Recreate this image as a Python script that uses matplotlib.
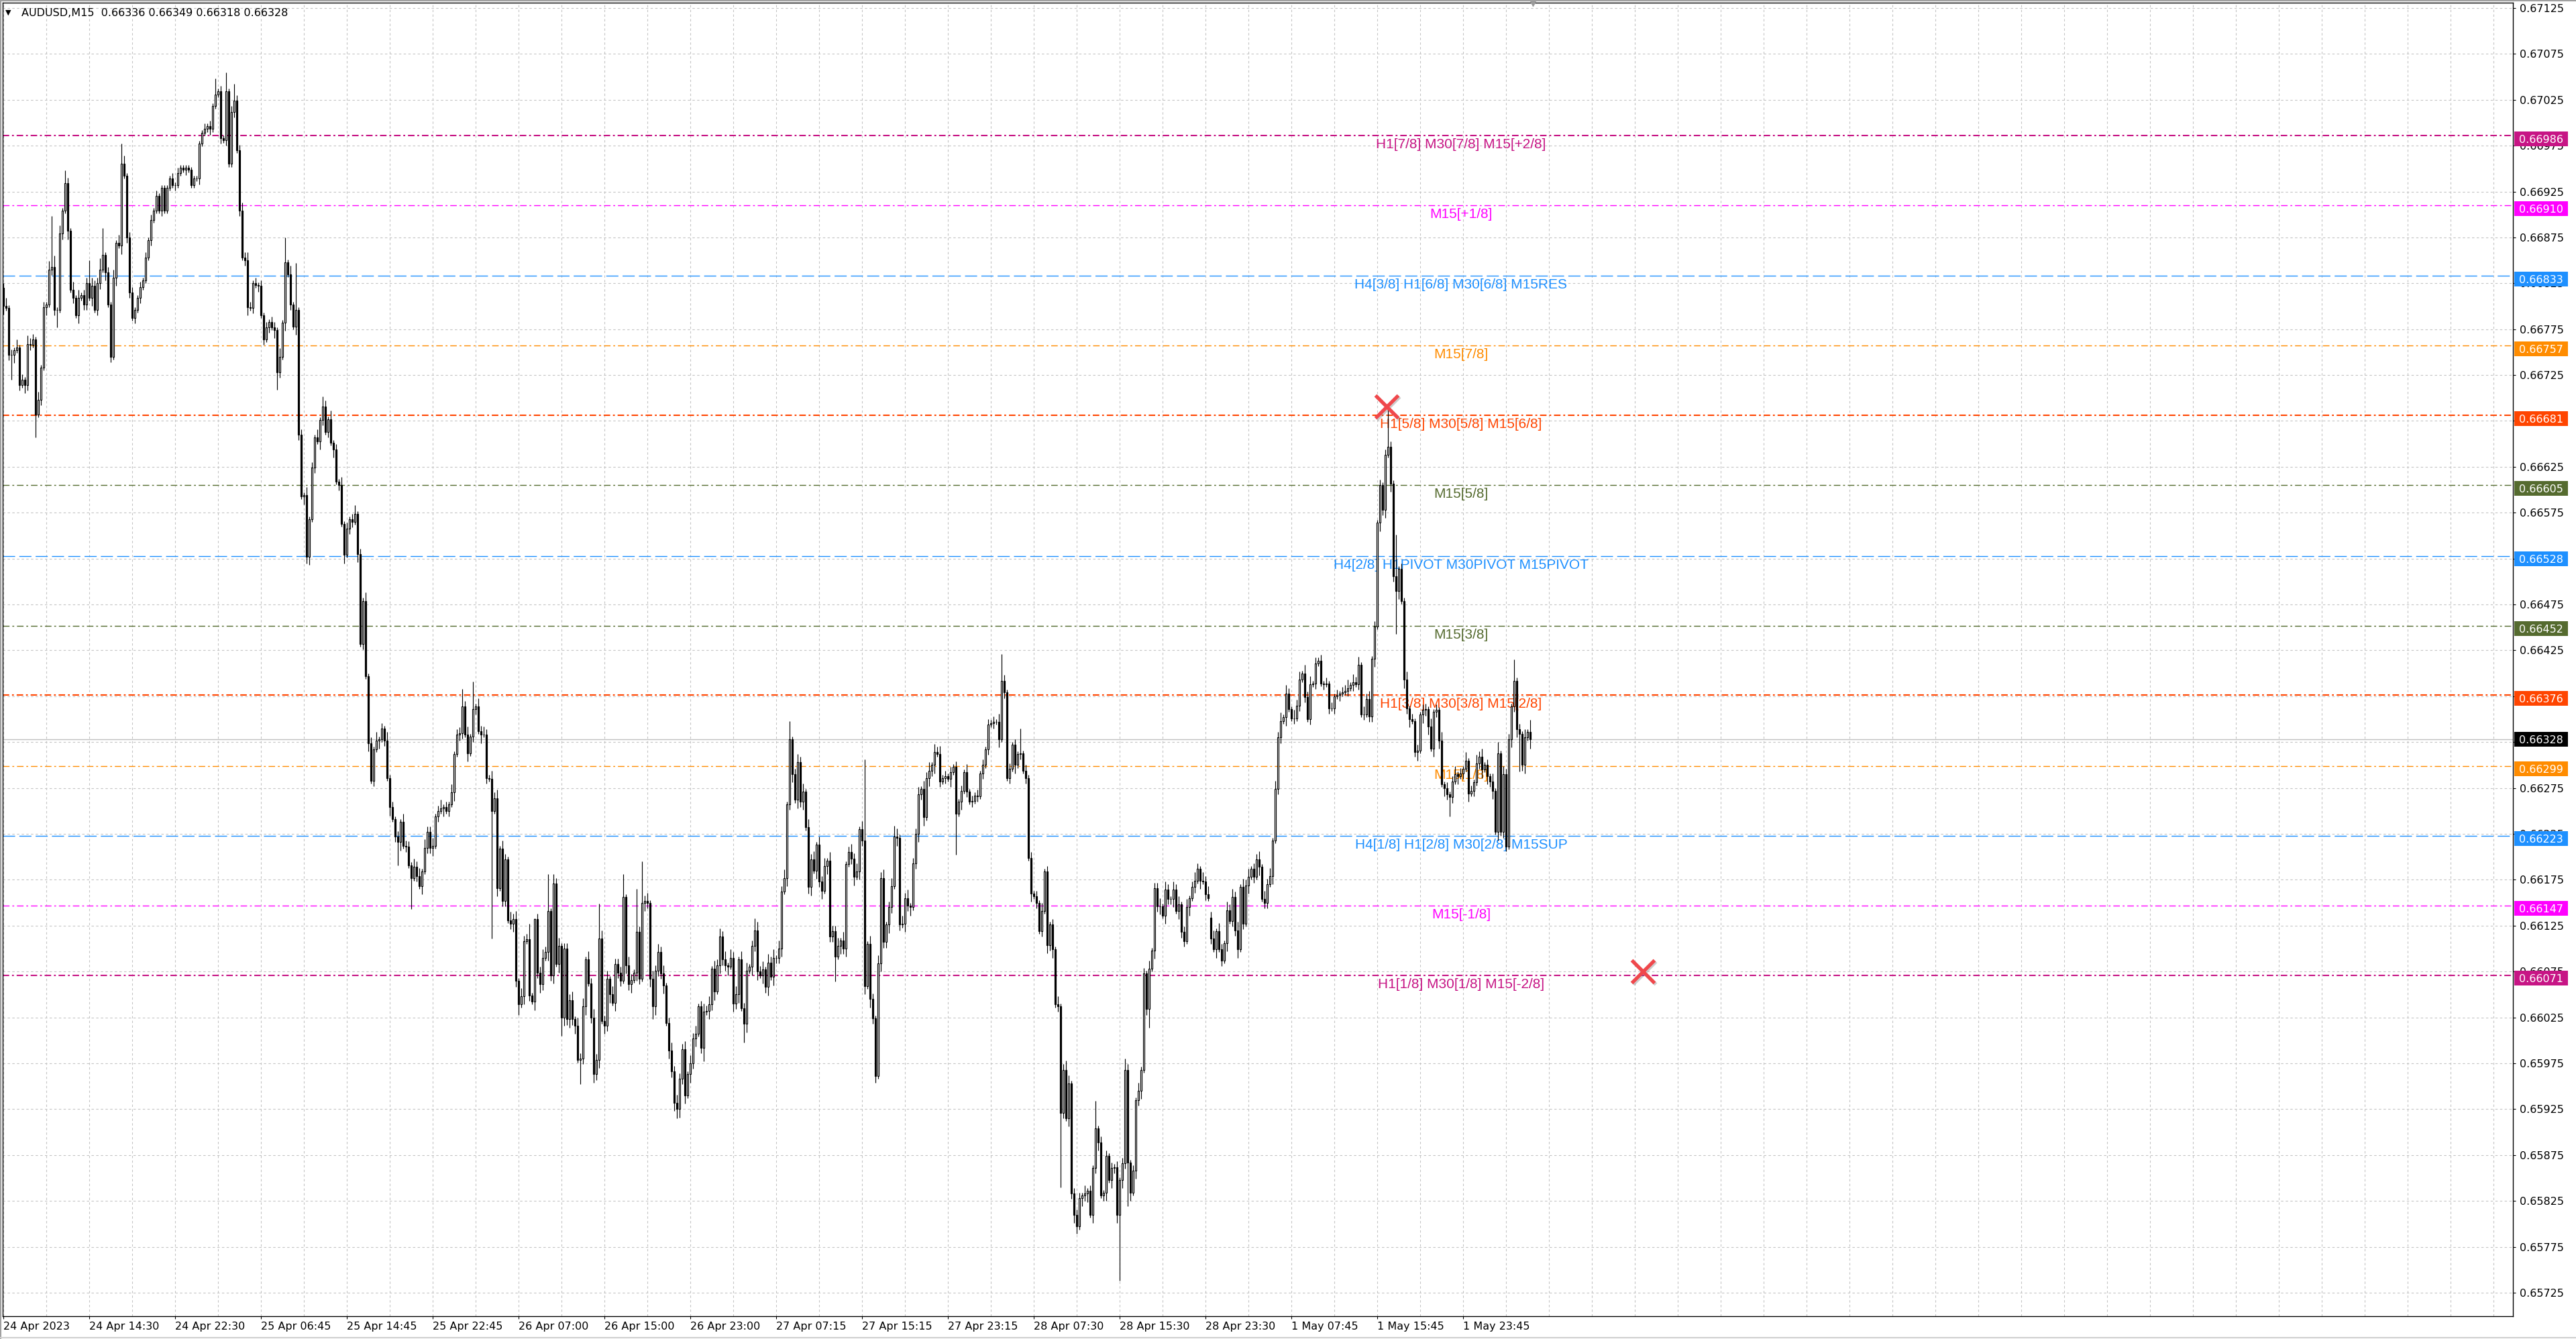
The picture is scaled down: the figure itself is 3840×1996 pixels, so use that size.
import matplotlib
matplotlib.use("Agg")
import matplotlib.pyplot as plt
from matplotlib.patches import Rectangle
from matplotlib.lines import Line2D
from matplotlib.transforms import blended_transform_factory, offset_copy

plt.rcParams['lines.scale_dashes'] = False

SYMBOL = "AUDUSD,M15"
LAST_OHLC = ["0.66336", "0.66349", "0.66318", "0.66328"]

# M15 closes in 1e-5 units, bar 0 = 24 Apr 06:30
CLOSES = [
    66800, 66798, 66747, 66747, 66752, 66755, 66714, 66720, 66714, 66759,
    66758, 66764, 66682, 66698, 66733, 66799, 66802, 66840, 66843, 66796,
    66796, 66879, 66904, 66934, 66882, 66818, 66809, 66790, 66809, 66812,
    66802, 66825, 66809, 66822, 66796, 66825, 66840, 66856, 66837, 66802,
    66745, 66831, 66869, 66866, 66955, 66942, 66875, 66815, 66787, 66796,
    66809, 66821, 66828, 66853, 66872, 66894, 66904, 66920, 66904, 66929,
    66904, 66929, 66939, 66932, 66932, 66945, 66951, 66949, 66951, 66949,
    66932, 66939, 66939, 66977, 66989, 66993, 66996, 66993, 67018, 67031,
    67034, 66983, 66981, 67034, 66955, 67012, 67024, 66970, 66904, 66853,
    66850, 66799, 66798, 66825, 66823, 66822, 66790, 66764, 66777, 66783,
    66777, 66774, 66728, 66745, 66782, 66848, 66835, 66802, 66778, 66796,
    66660, 66593, 66594, 66527, 66568, 66624, 66657, 66653, 66676, 66691,
    66663, 66677, 66651, 66644, 66609, 66605, 66563, 66529, 66558, 66568,
    66565, 66574, 66530, 66432, 66479, 66397, 66324, 66283, 66317, 66327,
    66328, 66340, 66327, 66286, 66254, 66241, 66222, 66216, 66238, 66212,
    66211, 66191, 66177, 66189, 66179, 66168, 66184, 66210, 66227, 66210,
    66212, 66244, 66250, 66253, 66254, 66250, 66257, 66270, 66312, 66333,
    66335, 66364, 66333, 66313, 66331, 66361, 66364, 66337, 66333, 66333,
    66286, 66285, 66250, 66264, 66166, 66209, 66152, 66197, 66131, 66127,
    66132, 66065, 66039, 66048, 66108, 66110, 66049, 66042, 66132, 66074,
    66061, 66090, 66096, 66141, 66071, 66171, 66083, 66103, 66025, 66100,
    66023, 66044, 66023, 66016, 65979, 65980, 66037, 66088, 66062, 66025,
    65963, 65979, 66111, 66021, 66016, 66067, 66050, 66041, 66083, 66074,
    66065, 66156, 66082, 66061, 66066, 66074, 66118, 66067, 66150, 66152,
    66150, 66067, 66037, 66076, 66096, 66073, 66060, 66019, 65989, 65966,
    65932, 65925, 65958, 65990, 65940, 65963, 65975, 66002, 66007, 66037,
    65992, 66031, 66032, 66039, 66078, 66053, 66082, 66113, 66088, 66082,
    66080, 66090, 66040, 66050, 66088, 66035, 66018, 66076, 66080, 66103,
    66120, 66075, 66071, 66077, 66058, 66085, 66069, 66090, 66090, 66100,
    66162, 66177, 66257, 66328, 66290, 66262, 66303, 66260, 66271, 66232,
    66167, 66197, 66185, 66213, 66173, 66163, 66190, 66196, 66113, 66119,
    66091, 66103, 66109, 66100, 66192, 66205, 66198, 66178, 66184, 66230,
    66218, 66059, 66105, 66045, 66024, 65961, 66084, 66177, 66107, 66126,
    66145, 66168, 66222, 66221, 66126, 66127, 66155, 66147, 66145, 66193,
    66225, 66268, 66274, 66243, 66286, 66294, 66300, 66314, 66312, 66282,
    66286, 66288, 66285, 66292, 66298, 66247, 66260, 66272, 66292, 66271,
    66260, 66261, 66267, 66266, 66291, 66300, 66317, 66344, 66346, 66347,
    66347, 66328, 66392, 66379, 66286, 66296, 66322, 66300, 66312, 66313,
    66294, 66286, 66199, 66160, 66157, 66150, 66119, 66141, 66184, 66104,
    66126, 66099, 66039, 66037, 65921, 65968, 65915, 65953, 65833, 65810,
    65797, 65828, 65831, 65833, 65836, 65810, 65861, 65904, 65889, 65831,
    65834, 65874, 65848, 65861, 65862, 65810, 65848, 65866, 65968, 65867,
    65834, 65858, 65935, 65945, 65968, 66073, 66034, 66078, 66098, 66166,
    66146, 66146, 66136, 66164, 66154, 66154, 66164, 66141, 66148, 66118,
    66108, 66145, 66155, 66167, 66174, 66187, 66174, 66173, 66159, 66155,
    66111, 66099, 66119, 66099, 66087, 66106, 66142, 66130, 66156, 66120,
    66099, 66167, 66127, 66169, 66178, 66187, 66178, 66197, 66189, 66154,
    66150, 66170, 66179, 66218, 66274, 66330, 66348, 66352, 66378, 66361,
    66351, 66351, 66365, 66393, 66400, 66374, 66350, 66388, 66389, 66411,
    66414, 66389, 66388, 66389, 66362, 66362, 66375, 66376, 66378, 66379,
    66381, 66384, 66387, 66390, 66388, 66409, 66355, 66355, 66372, 66353,
    66416, 66451, 66564, 66605, 66578, 66638, 66647, 66607, 66506, 66490,
    66514, 66479, 66393, 66362, 66350, 66348, 66314, 66316, 66355, 66360,
    66361, 66342, 66318, 66358, 66360, 66327, 66279, 66275, 66268, 66265,
    66282, 66290, 66288, 66291, 66296, 66305, 66269, 66272, 66281, 66302,
    66309, 66295, 66300, 66288, 66282, 66272, 66227, 66313, 66227, 66290,
    66211, 66328, 66364, 66392, 66339, 66334, 66300, 66330, 66336, 66328,
]

# opens follow the previous close except where a gap shows
OPEN_AT = {0: 66820, 450: 66134}

# long wicks
HIGH_AT = {0: 66825, 18: 66898, 23: 66948, 32: 66850, 37: 66885, 44: 66977,
           79: 67048, 83: 67055, 86: 67042, 105: 66875, 109: 66847, 119: 66702,
           171: 66383, 175: 66391, 196: 66127, 198: 66133, 203: 66181, 205: 66181,
           222: 66149, 231: 66181, 236: 66165, 238: 66195, 280: 66133, 293: 66348,
           321: 66306, 332: 66234, 341: 66276, 372: 66421, 379: 66340, 396: 65978,
           407: 65934, 418: 65980, 516: 66690, 519: 66551, 557: 66325, 563: 66415,
           569: 66349}
LOW_AT = {3: 66720, 12: 66657, 20: 66777, 102: 66709, 113: 66520, 147: 66191,
          152: 66143, 182: 66111, 191: 66058, 192: 66028, 208: 66005, 215: 65952,
          220: 65954, 242: 66023, 251: 65915, 261: 65977, 276: 65998, 300: 66160,
          310: 66064, 325: 65954, 355: 66202, 394: 65840, 400: 65789, 416: 65738,
          419: 65819, 427: 66014, 519: 66443, 526: 66309, 539: 66244, 558: 66223,
          560: 66206, 565: 66293, 569: 66318}

# short wicks, one digit per bar, in steps of 3 points
WICK_STEP = 3
UP_WICK = """
2312131213 2213121324 1312213131 2213224212 1313231221
1212121211 1112121111 1111121212 1213121223 2321212121
2213121312 1213121312 2131213121 2312131213 1213121213
2213231322 3123121312 2323141323 2132313213 2313223132
2323132312 2231323132 3213231322 2313213232 3132323123
2322313231 2323132323 1323132312 2323132313 2313123231
3231323132 2313123231 3213213231 2323132312 2313231323
1212121213 1212121212 1312121213 1212121312 1213121312
2213121312 1212121212 1213121312 2313213231 2312321323
2313213232 3132312231 3231323132 1323132312 1212121212
2313231323 1212121212 1213121212 2131213121 2312131213
2312131213 2213121312
"""
DN_WICK = """
3121312132 2131213122 3121312131 2213122131 2131312212
1211121112 1111211121 1112111211 1212112121 2312121212
1312131213 2131312132 1213121312 2131213121 3121312131
2131213122 3121312131 2213122131 2131312212 3121312132
3213231323 2323132312 3231323132 2132313213 2313223132
3232313231 2313231322 3132312313 2313231322 3132313231
2313231322 3132312313 2313231322 3213213231 2323132312
1213121312 1212121212 1312121312 1213121213 2312321323
3132313231 2313231322 3132312313 2313223132 2131213121
2131213122 3121312131 2213122131 1212121212 1121212121
1212121212 2313231322 3132312313 2313231322 2131213121
2313231322 3132312313
"""

DATE_LABELS = ["24 Apr 2023", "24 Apr 14:30", "24 Apr 22:30", "25 Apr 06:45",
               "25 Apr 14:45", "25 Apr 22:45", "26 Apr 07:00", "26 Apr 15:00",
               "26 Apr 23:00", "27 Apr 07:15", "27 Apr 15:15", "27 Apr 23:15",
               "28 Apr 07:30", "28 Apr 15:30", "28 Apr 23:30", "1 May 07:45",
               "1 May 15:45", "1 May 23:45"]
LABEL_EVERY = 32
GRID_EVERY = 16

LEVELS = [0.66986, 0.66910, 0.66833, 0.66757, 0.66681, 0.66605, 0.66528,
          0.66452, 0.66376, 0.66299, 0.66223, 0.66147, 0.66071]
LEVEL_TEXT = ["H1[7/8] M30[7/8] M15[+2/8]", "M15[+1/8]",
              "H4[3/8] H1[6/8] M30[6/8] M15RES", "M15[7/8]",
              "H1[5/8] M30[5/8] M15[6/8]", "M15[5/8]",
              "H4[2/8] H1PIVOT M30PIVOT M15PIVOT", "M15[3/8]",
              "H1[3/8] M30[3/8] M15[2/8]", "M15[1/8]",
              "H4[1/8] H1[2/8] M30[2/8] M15SUP", "M15[-1/8]",
              "H1[1/8] M30[1/8] M15[-2/8]"]
LEVEL_COLORS = ["#C71585", "#FF00FF", "#1E90FF", "#FF8C00", "#FF4500", "#556B2F",
                "#1E90FF", "#556B2F", "#FF4500", "#FF8C00", "#1E90FF", "#FF00FF",
                "#C71585"]
LEVEL_TEXT_BAR = 543.25
CURRENT = 0.66328

MARK_BARS = [515.5, 611]
MARK_PRICES = [0.66691, 0.66075]

Y_TICKS = [0.65725 + 0.0005 * k for k in range(29)]

# ---- layout (pixels) ----
W, H = 3840, 1996
L, R, T, B = 4, 3746, 4, 1962
YMIN, YMAX = 0.656994, 0.671308
PX_PER_PRICE = (B - T) / (YMAX - YMIN)

fig = plt.figure(figsize=(W / 100, H / 100), dpi=100)
fig.patch.set_facecolor("white")
ax = fig.add_axes([L / W, 1 - B / H, (R - L) / W, (B - T) / H])
ax.set_xlim((L - 5) / 4, (R - 5) / 4)
ax.set_ylim(YMIN, YMAX)

# ---- candles ----
up = "".join(UP_WICK.split())
dn = "".join(DN_WICK.split())
n = len(CLOSES)
xs, bots, hts, faces, highs, lows = [], [], [], [], [], []
for i in range(n):
    o = OPEN_AT.get(i, CLOSES[i - 1])
    c = CLOSES[i]
    top, bot = max(o, c), min(o, c)
    hi = max(top, HIGH_AT.get(i, top + int(up[i]) * WICK_STEP))
    lo = min(bot, LOW_AT.get(i, bot - int(dn[i]) * WICK_STEP))
    xs.append(i)
    bots.append(bot / 1e5)
    hts.append((top - bot) / 1e5)
    faces.append("white" if c > o else "black")
    highs.append(hi / 1e5)
    lows.append(lo / 1e5)

ax.vlines(xs, lows, highs, colors="black", lw=0.85, zorder=4)
ax.bar(xs, hts, bottom=bots, width=0.55, color=faces, edgecolor="black",
       linewidth=0.85, zorder=5)

# ---- levels ----
text_drop = 4 / PX_PER_PRICE
for v, txt, col in zip(LEVELS, LEVEL_TEXT, LEVEL_COLORS):
    if col == "#1E90FF":
        ls = (0, (13, 4.5))
        lw = 1.0
    else:
        ls = (0, (7, 3, 2, 3))
        lw = 1.5 if col in ("#FF4500", "#C71585") else 1.0
    ax.axhline(v, color=col, lw=lw, linestyle=ls, zorder=2)
    ax.text(LEVEL_TEXT_BAR, v - text_drop, txt, color=col, fontsize=15,
            family="Liberation Sans", ha="center", va="top", zorder=3)

ax.axhline(CURRENT, color="#C0C0C0", lw=1.0, zorder=1.8)

# price boxes on the right scale (level boxes sit a little under their line)
trans = blended_transform_factory(ax.transAxes, ax.transData)
box_h = 22 / PX_PER_PRICE
aw = R - L
boxes = [(v, col, 4.5) for v, col in zip(LEVELS, LEVEL_COLORS)]
boxes.append((CURRENT, "black", 0))
for v, col, drop in boxes:
    yc = v - drop / PX_PER_PRICE
    ax.add_patch(Rectangle((1 + 2 / aw, yc - box_h / 2), 80 / aw, box_h,
                           transform=trans, clip_on=False, facecolor=col,
                           edgecolor="none", zorder=6))
    ax.text(1 + 42 / aw, yc, "%.5f" % v, transform=trans, color="white",
            fontsize=11.5, family="DejaVu Sans", ha="center",
            va="center_baseline", zorder=7, clip_on=False)

# ---- markers ----
shadow = offset_copy(ax.transData, fig=fig, x=2, y=-2, units="dots")
ax.plot(MARK_BARS, MARK_PRICES, "x", color="#707070", alpha=0.35, ms=24,
        mew=3.8, transform=shadow, zorder=7)
ax.plot(MARK_BARS, MARK_PRICES, "x", color="#F0484C", ms=24, mew=3.8, zorder=8)
ax.plot([n], [YMAX], marker="v", color="#9A9A9A", ms=7, clip_on=False, zorder=9)

# ---- axes ----
ax.yaxis.tick_right()
ax.set_yticks(Y_TICKS)
ax.set_yticklabels(["%.5f" % t for t in Y_TICKS])
ax.tick_params(axis="y", direction="out", length=3, width=0.8, pad=4.5,
               labelsize=11.5, colors="black")

ax.set_xticks([LABEL_EVERY * k for k in range(len(DATE_LABELS))])
ax.set_xticklabels(DATE_LABELS)
ax.set_xticks(list(range(0, 936, GRID_EVERY)), minor=True)
ax.tick_params(axis="x", which="major", direction="out", length=3, width=0.8,
               pad=2.5, labelsize=11.5)
ax.tick_params(axis="x", which="minor", length=0)
for t in ax.get_xticklabels():
    t.set_ha("left")
    t.set_family("DejaVu Sans")
for t in ax.get_yticklabels():
    t.set_family("DejaVu Sans")

ax.grid(True, which="both", axis="x", color="#C4C4C4", lw=0.8,
        linestyle=(0, (2.5, 2.5)))
ax.grid(True, which="major", axis="y", color="#C4C4C4", lw=0.8,
        linestyle=(0, (2.5, 2.5)))
ax.set_axisbelow(True)
for s in ax.spines.values():
    s.set_color("black")
    s.set_linewidth(1.0)

# ---- header and window frame ----
fig.text(8 / W, 1 - 19 / H, "\u25bc", fontsize=8, va="center", ha="left",
         family="DejaVu Sans")
fig.text(32 / W, 1 - 20 / H, SYMBOL + "  " + " ".join(LAST_OHLC), fontsize=11.5,
         va="center", ha="left", family="DejaVu Sans")
fig.add_artist(Line2D([0, 1], [1 - 1 / H, 1 - 1 / H], color="#A0A0A0", lw=1.5,
                      transform=fig.transFigure))
fig.add_artist(Line2D([1 / W, 1 / W], [0, 1], color="#A0A0A0", lw=1.5,
                      transform=fig.transFigure))
fig.add_artist(Line2D([0, 1], [2 / H, 2 / H], color="#D0D0D0", lw=1.5,
                      transform=fig.transFigure))

fig.savefig("out.png", dpi=100)
